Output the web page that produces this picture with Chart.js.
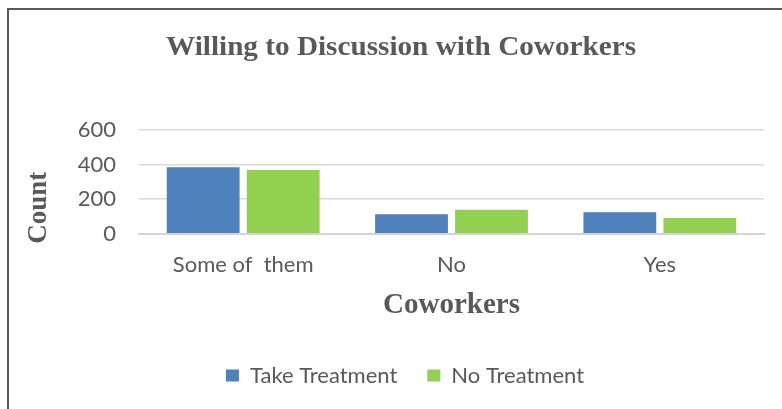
<!DOCTYPE html>
<html>
<head>
<meta charset="utf-8">
<script src="https://cdn.jsdelivr.net/npm/chart.js@4.4.1/dist/chart.umd.min.js"></script>
<style>
  html, body { margin: 0; padding: 0; background: #ffffff; overflow: hidden; }
  #wrap { position: relative; width: 782px; height: 409px; overflow: hidden; }
  #chart { position: absolute; left: 0; top: 0; }
  #frame {
    position: absolute; left: 7px; top: 8px; width: 820px; height: 440px;
    border: 2px solid #5a5a5a; box-sizing: border-box; pointer-events: none;
  }
</style>
</head>
<body>
<div id="wrap">
  <canvas id="chart" width="782" height="409"></canvas>
  <div id="frame"></div>
</div>
<script>
// Survey counts by answer
const categories = ['Some of  them', 'No', 'Yes'];
const takeTreatment = [384, 112, 124];
const noTreatment = [369, 139, 91];
const yTicks = [0, 200, 400, 600];

const chartTitle = 'Willing to Discussion with Coworkers';
const xTitle = 'Coworkers';
const yTitle = 'Count';

const GREY = '#595959';
const SANS = 'Lato, "Open Sans", sans-serif';
const SERIF = '"Liberation Serif", "Times New Roman", serif';

// Chart title and the vertical axis title, drawn in a bold serif face
const serifTitles = {
  id: 'serifTitles',
  afterDraw(chart) {
    const ctx = chart.ctx;
    const area = chart.chartArea;
    ctx.save();
    ctx.fillStyle = GREY;
    ctx.textAlign = 'center';
    ctx.font = 'bold 27px ' + SERIF;
    ctx.textBaseline = 'alphabetic';
    const w = ctx.measureText(chartTitle).width;
    ctx.translate(401, 55);
    ctx.scale(470 / w, 1);
    ctx.fillText(chartTitle, 0, 0);
    ctx.restore();

    ctx.save();
    ctx.fillStyle = GREY;
    ctx.textAlign = 'center';
    ctx.textBaseline = 'middle';
    ctx.font = 'bold 27px ' + SERIF;
    ctx.translate(39, area.bottom - 26);
    ctx.rotate(-Math.PI / 2);
    ctx.fillText(yTitle, 0, 0);
    ctx.restore();
  }
};

new Chart(document.getElementById('chart'), {
  type: 'bar',
  data: {
    labels: categories,
    datasets: [
      { label: 'Take Treatment', data: takeTreatment, backgroundColor: '#4f81bd' },
      { label: 'No Treatment', data: noTreatment, backgroundColor: '#92d050' }
    ]
  },
  options: {
    responsive: false,
    animation: false,
    devicePixelRatio: 1,
    categoryPercentage: 0.768,
    barPercentage: 0.91,
    layout: { padding: { top: 130, right: 18, bottom: 12.5, left: 46 } },
    plugins: {
      title: { display: false },
      tooltip: { enabled: false },
      legend: {
        position: 'bottom',
        labels: {
          color: GREY,
          font: { family: SANS, size: 22 },
          boxWidth: 13,
          boxHeight: 12,
          padding: 30
        }
      }
    },
    scales: {
      x: {
        grid: { display: false, drawTicks: false },
        border: { display: true, color: '#d4d4d4', width: 2 },
        ticks: { color: GREY, font: { family: SANS, size: 22 }, padding: 18, maxRotation: 0, autoSkip: false },
        title: {
          display: true,
          text: xTitle,
          color: GREY,
          font: { family: SERIF, size: 29, weight: 'bold' },
          padding: { top: -7.5, bottom: 11.1 }
        }
      },
      y: {
        min: 0,
        max: 600,
        afterFit(scale) { scale.width = 93; },
        afterBuildTicks(scale) { scale.ticks = yTicks.map(v => ({ value: v })); },
        grid: { color: '#d9d9d9', lineWidth: 1.5, drawTicks: false },
        border: { display: false },
        ticks: { color: GREY, font: { family: SANS, size: 22 }, padding: 23, autoSkip: false }
      }
    }
  },
  plugins: [serifTitles]
});
</script>
</body>
</html>
